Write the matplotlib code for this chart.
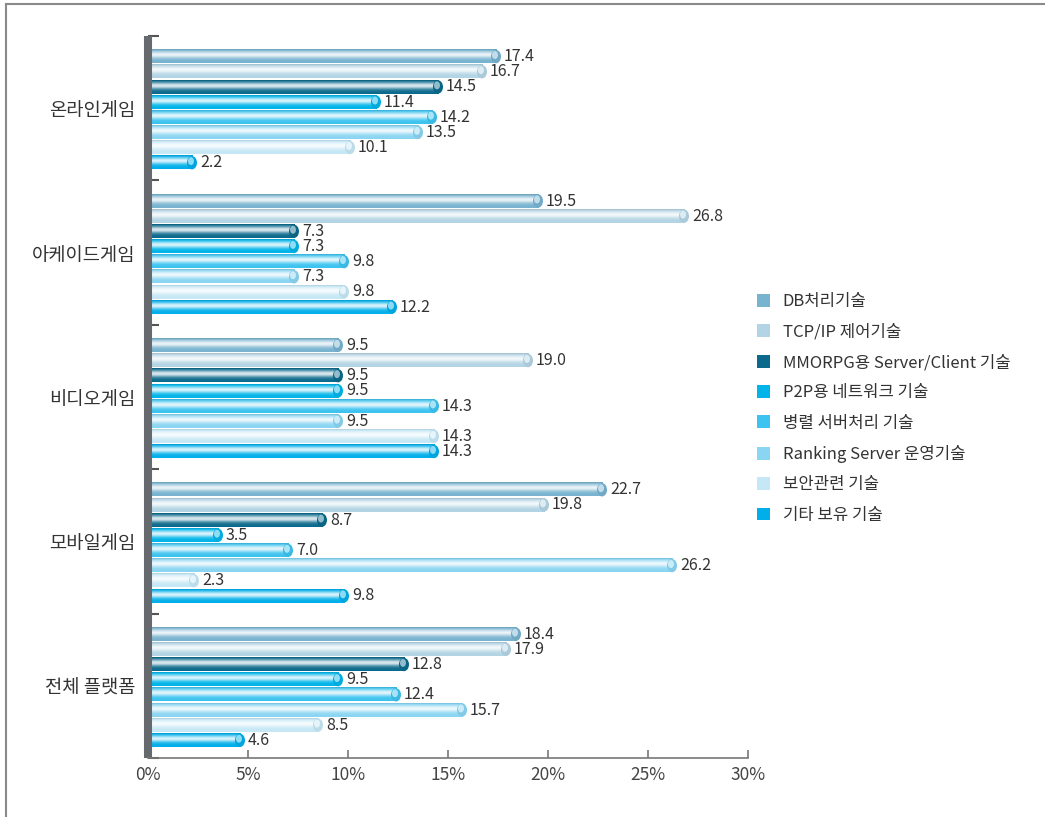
import matplotlib.pyplot as plt
import numpy as np
from matplotlib.colors import to_rgb
from matplotlib.patches import Ellipse, Patch
from matplotlib.lines import Line2D

plt.rcParams['font.family'] = ['Noto Sans CJK KR', 'DejaVu Sans']

categories = ['온라인게임', '아케이드게임', '비디오게임', '모바일게임', '전체 플랫폼']
series = ['DB처리기술', 'TCP/IP 제어기술', 'MMORPG용 Server/Client 기술', 'P2P용 네트워크 기술',
          '병렬 서버처리 기술', 'Ranking Server 운영기술', '보안관련 기술', '기타 보유 기술']
colors = ['#78b3d0', '#b3d4e4', '#0b6a8c', '#00b4e9', '#3cc3ef', '#8ad5f2', '#c6e8f6', '#00aeea']

# 각 기술별 비율(%), 카테고리 순서대로
db_tech = [17.4, 19.5, 9.5, 22.7, 18.4]
tcpip_tech = [16.7, 26.8, 19.0, 19.8, 17.9]
mmorpg_tech = [14.5, 7.3, 9.5, 8.7, 12.8]
p2p_tech = [11.4, 7.3, 9.5, 3.5, 9.5]
parallel_tech = [14.2, 9.8, 14.3, 7.0, 12.4]
ranking_tech = [13.5, 7.3, 9.5, 26.2, 15.7]
security_tech = [10.1, 9.8, 14.3, 2.3, 8.5]
other_tech = [2.2, 12.2, 14.3, 9.8, 4.6]
all_values = [db_tech, tcpip_tech, mmorpg_tech, p2p_tech, parallel_tech,
              ranking_tech, security_tech, other_tech]

x_ticks = [0, 5, 10, 15, 20, 25, 30]


def shade(color, n=48):
    # 원통 느낌의 세로 그라데이션
    base = np.array(to_rgb(color))
    t = np.linspace(0, 1, n)[:, None]
    w = 0.85 * np.exp(-((t - 0.4) / 0.24) ** 2)
    rgb = base * (1 - w) + w
    rgb[t[:, 0] < 0.08] = base * 0.92
    return rgb[:, None, :]


fig = plt.figure(figsize=(10.45, 8.17), dpi=100)
ax = fig.add_axes([0.1416, 0.0722, 0.5742, 0.8837])

pitch = 0.105
h = 0.092
for j, vals in enumerate(all_values):
    img = shade(colors[j])
    base = np.array(to_rgb(colors[j]))
    for i, v in enumerate(vals):
        y = i + 0.51 + (j - 3.5) * pitch
        ax.imshow(img, extent=(0, v, y + h / 2, y - h / 2), aspect='auto',
                  interpolation='bilinear', zorder=2)
        ax.add_patch(Ellipse((v, y), 0.5, h, facecolor=base * 0.95, edgecolor='none', zorder=3))
        ax.add_patch(Ellipse((v - 0.05, y - h * 0.12), 0.3, h * 0.6,
                             facecolor=base * 0.45 + 0.55, edgecolor='none', zorder=4))
        ax.text(v + 0.4, y, f'{v:.1f}', va='center', ha='left', fontsize=11.5,
                color='#333333', zorder=5)

ax.set_xlim(0, 30)
ax.set_ylim(5, 0)
ax.set_xticks(x_ticks)
ax.set_xticklabels([f'{t}%' for t in x_ticks], fontsize=12.5, color='#444444')
ax.set_yticks([i + 0.5 for i in range(len(categories))])
ax.set_yticklabels(categories, fontsize=13.5, color='#333333')
ax.set_yticks(range(len(categories) + 1), minor=True)
ax.tick_params(axis='y', which='major', length=0, pad=9)
ax.tick_params(axis='y', which='minor', direction='in', length=8, width=1.5, color='#555555')
ax.tick_params(axis='x', direction='in', length=6, width=1.2, color='#777777', pad=6)

for s in ['top', 'right']:
    ax.spines[s].set_visible(False)
ax.spines['left'].set_linewidth(5.8)
ax.spines['left'].set_color('#66696d')
ax.spines['left'].set_capstyle('butt')
ax.spines['bottom'].set_linewidth(1.2)
ax.spines['bottom'].set_color('#777777')

handles = [Patch(facecolor=c, edgecolor='none') for c in colors]
fig.legend(handles, series, loc='center left', bbox_to_anchor=(0.7244, 0.500),
           frameon=False, fontsize=12, handlelength=0.8, handleheight=0.8,
           handletextpad=0.75, labelspacing=0.8, borderpad=0, borderaxespad=0,
           labelcolor='#333333')

# 바깥 테두리 (위, 왼쪽)
fig.add_artist(Line2D([5.5 / 1045, 5.5 / 1045], [0, 1 - 3.5 / 817],
                      transform=fig.transFigure, color='#8a8a8a', lw=1.5))
fig.add_artist(Line2D([5.5 / 1045, 1], [1 - 3.5 / 817, 1 - 3.5 / 817],
                      transform=fig.transFigure, color='#8a8a8a', lw=1.5))

fig.savefig('out.png', dpi=100)
